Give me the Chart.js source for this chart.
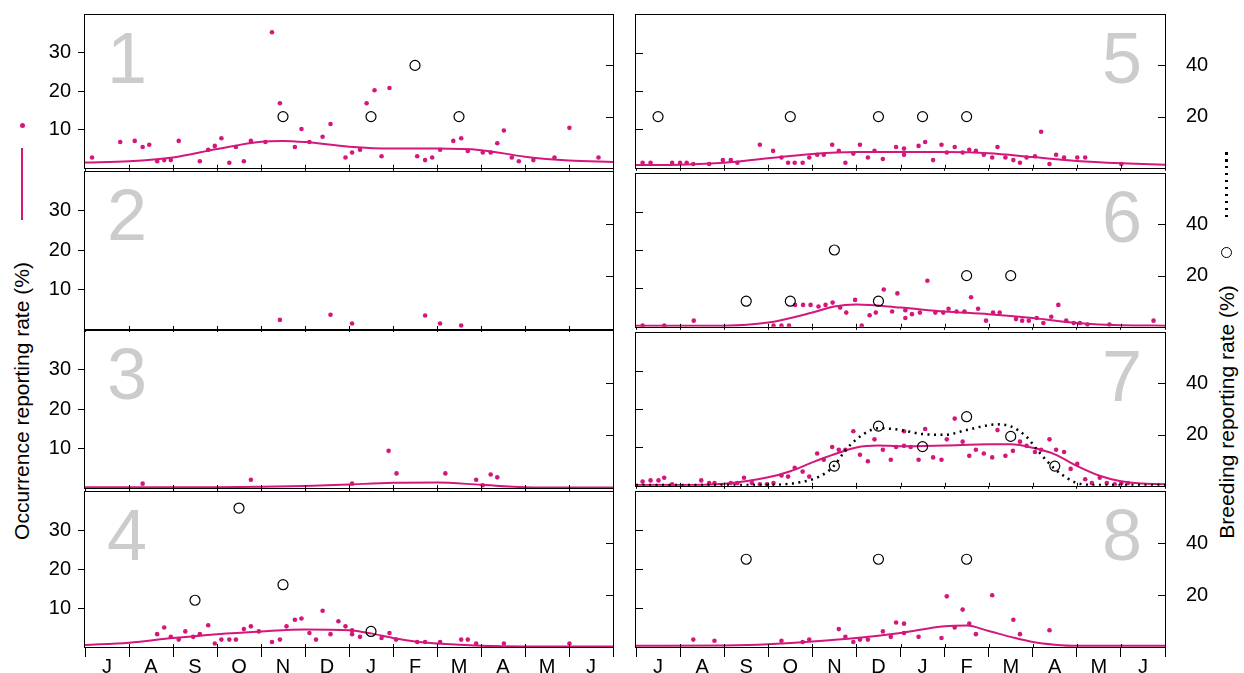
<!DOCTYPE html>
<html>
<head>
<meta charset="utf-8">
<script src="https://cdn.jsdelivr.net/npm/chart.js@4.4.1/dist/chart.umd.min.js"></script>
<style>
  body { margin: 0; background: #fff; }
  #page { position: relative; width: 1244px; height: 673px; overflow: hidden;
          font-family: 'Liberation Sans', Arial, sans-serif; }
  #page canvas { position: absolute; }
  .ytitle { position: absolute; white-space: nowrap; font-size: 21px; color: #000;
            transform: translate(-50%, -50%) rotate(-90deg); }
  .mark { position: absolute; }
</style>
</head>
<body>
<div id="page">
  <div class="ytitle" style="left:22px; top:401px;">Occurrence reporting rate (%)</div>
  <div class="ytitle" style="left:1227px; top:412px;">Breeding reporting rate (%)</div>
  <div class="mark" style="left:20px; top:123px; width:5px; height:5px; border-radius:50%; background:#d4177b;"></div>
  <div class="mark" style="left:21px; top:148px; width:2px; height:72px; background:#d4177b;"></div>
  <div class="mark" style="left:1225px; top:152px; width:3px; height:70px;
       background: repeating-linear-gradient(to bottom, #000 0 2.5px, transparent 2.5px 7px);"></div>
  <div class="mark" style="left:1221px; top:247px; width:9px; height:9px; border:1px solid #000; border-radius:50%;"></div>
</div>
<script>
var MAGENTA = '#d4177b';
var FONT = "'Liberation Sans', Arial, sans-serif";

// month labels, July -> June
var months = ['J', 'A', 'S', 'O', 'N', 'D', 'J', 'F', 'M', 'A', 'M', 'J'];
var occTicks = [10, 20, 30];
var breedTicks = [20, 40];

// occurrence reporting rate, monthly points [month, %]
var dots1 = [[0.16,2.7],[0.8,6.7],[1.13,7.0],[1.31,5.4],[1.46,6.0],[1.64,1.7],[1.8,2.0],[1.95,2.0],[2.13,7.0],
  [2.61,1.7],[2.8,4.7],[2.95,5.7],[3.1,7.7],[3.28,1.3],[3.43,5.4],[3.61,1.7],[3.77,7.0],[4.1,6.7],[4.25,35.3],
  [4.43,16.8],[4.77,5.4],[4.92,10.1],[5.1,6.7],[5.4,8.1],[5.58,11.4],[5.92,2.7],[6.07,4.0],[6.25,4.7],[6.4,16.8],
  [6.58,20.2],[6.74,3.0],[6.92,20.8],[7.55,3.0],[7.73,2.0],[7.89,2.7],[8.07,4.7],[8.37,7.0],[8.55,7.7],[8.7,4.4],
  [9.04,4.0],[9.22,4.0],[9.37,6.4],[9.52,9.7],[9.7,2.7],[9.86,1.7],[10.19,2.0],[10.67,2.7],[11.01,10.4],[11.67,2.7]];
var dots2 = [[4.43,2.3],[5.58,3.6],[6.07,1.4],[7.73,3.4],[8.07,1.4],[8.55,0.9]];
var dots3 = [[1.31,1.1],[3.77,2.1],[6.07,1.1],[6.9,9.4],[7.08,3.7],[8.19,3.7],[8.89,2.1],[9.04,0.7],[9.22,3.4],[9.37,2.7]];
var dots4 = [[1.64,3.3],[1.8,5.0],[1.95,2.6],[2.13,1.9],[2.28,4.0],[2.46,2.6],[2.61,3.3],[2.8,5.6],[2.95,0.9],
  [3.1,1.9],[3.28,1.9],[3.43,1.9],[3.61,4.6],[3.77,5.3],[3.95,4.0],[4.25,1.3],[4.43,1.9],[4.58,5.3],[4.77,7.0],
  [4.92,7.3],[5.1,3.6],[5.25,1.9],[5.4,9.3],[5.58,3.3],[5.76,6.6],[5.92,5.3],[6.07,4.3],[6.07,3.3],[6.25,2.6],
  [6.74,2.3],[6.92,3.6],[7.07,1.9],[7.55,1.3],[7.73,1.3],[8.07,1.3],[8.55,1.9],[8.7,1.9],[8.89,0.9],[9.52,0.9],[11.01,0.9]];
var dots5 = [[0.15,1.3],[0.33,1.3],[0.82,1.3],[1.0,1.3],[1.15,1.3],[1.3,1.0],[1.66,1.0],[1.97,2.0],[2.15,2.0],
  [2.3,1.3],[2.81,6.0],[3.11,4.4],[3.3,2.7],[3.45,1.3],[3.6,1.3],[3.78,1.3],[3.93,2.7],[4.11,3.4],[4.26,3.4],
  [4.45,6.0],[4.6,4.4],[4.75,1.3],[4.93,3.7],[5.08,6.0],[5.26,2.7],[5.41,4.4],[5.6,2.3],[5.9,5.4],[6.08,5.0],
  [6.08,3.4],[6.41,5.7],[6.56,6.7],[6.74,2.0],[6.93,6.0],[7.05,4.0],[7.23,5.4],[7.41,4.0],[7.56,4.7],[7.71,4.4],
  [7.89,3.4],[8.08,2.7],[8.2,5.4],[8.38,2.7],[8.56,2.0],[8.71,1.3],[8.86,2.7],[9.05,3.0],[9.19,9.4],[9.38,1.0],
  [9.53,3.4],[9.71,2.7],[10.01,2.7],[10.19,2.7],[11.01,1.0]];
var dots6 = [[0.15,0.3],[0.64,0.3],[1.31,1.6],[3.12,0.3],[3.3,0.3],[3.47,0.3],[3.61,5.7],[3.79,5.7],[3.96,5.7],
  [4.14,5.3],[4.3,5.7],[4.46,6.3],[4.63,5.0],[4.77,3.7],[4.97,7.0],[5.12,0.3],[5.3,3.0],[5.44,3.7],[5.62,9.7],
  [5.81,4.0],[5.93,8.7],[6.11,4.3],[6.11,2.3],[6.26,3.3],[6.44,3.7],[6.61,12.0],[6.79,3.7],[6.97,3.7],[7.09,4.7],
  [7.27,4.0],[7.45,4.0],[7.6,7.7],[7.76,4.7],[7.94,1.6],[8.1,3.7],[8.25,3.7],[8.62,2.0],[8.76,1.6],[8.91,1.6],
  [9.09,2.3],[9.24,1.0],[9.42,2.6],[9.58,5.7],[9.76,1.6],[9.93,1.0],[10.07,1.0],[10.24,0.6],[10.74,0.6],[11.74,1.6]];
var dots7 = [[0.15,1.1],[0.33,1.4],[0.51,1.4],[0.64,2.1],[0.82,0.4],[1.48,1.4],[1.66,0.7],[1.78,0.7],[2.15,0.7],
  [2.3,0.7],[2.45,2.1],[2.63,0.7],[2.81,0.4],[2.97,0.4],[3.12,0.7],[3.3,2.7],[3.45,2.4],[3.6,4.7],[3.78,3.7],
  [3.93,2.4],[4.11,8.4],[4.26,6.8],[4.45,10.1],[4.6,9.4],[4.75,9.4],[4.93,14.2],[5.08,8.1],[5.26,6.4],[5.41,12.1],
  [5.6,9.4],[5.78,6.8],[5.9,10.1],[6.08,10.4],[6.08,14.2],[6.23,10.1],[6.41,6.8],[6.56,14.8],[6.74,7.4],[6.93,6.8],
  [7.05,12.1],[7.23,17.5],[7.41,11.5],[7.56,7.8],[7.71,9.4],[7.89,8.4],[8.08,7.4],[8.2,14.5],[8.38,7.8],[8.55,9.1],
  [8.71,11.5],[8.86,10.4],[9.05,8.8],[9.19,9.4],[9.38,12.1],[9.53,9.4],[9.71,8.8],[9.86,4.4],[10.01,5.7],
  [10.19,1.7],[10.34,0.7],[10.52,2.1],[10.68,0.7],[10.86,0.4],[11.01,0.7],[11.16,0.7]];
var dots8 = [[1.3,1.9],[1.78,1.6],[3.3,1.6],[3.78,1.3],[3.93,1.9],[4.6,4.6],[4.75,2.6],[4.93,1.3],[5.08,1.9],
  [5.26,1.9],[5.6,4.0],[5.78,2.6],[5.9,6.3],[6.08,6.0],[6.08,3.6],[6.41,2.6],[6.93,2.3],[7.05,13.0],[7.23,5.0],
  [7.41,9.6],[7.56,6.0],[7.71,3.3],[8.08,13.3],[8.56,7.0],[8.71,3.3],[9.38,4.3]];

// smoothed occurrence curves [month, %]
var curve1 = [[0,1.4],[1,1.7],[2,2.7],[3,4.9],[4,6.8],[4.5,7.0],[5,6.7],[6,5.5],[7,5.0],[8,5.0],[9,4.6],[10,2.9],[11,1.9],[12,1.5]];
var curve3 = [[0,0.2],[3,0.2],[4,0.3],[5,0.5],[6,0.9],[7,1.3],[8,1.4],[9,0.8],[10,0.2],[11,0.1],[12,0.1]];
var curve4 = [[0,0.5],[1,1.1],[2,2.3],[3,3.3],[4,4.0],[5,4.5],[6,4.3],[6.5,3.5],[7,2.3],[7.5,1.4],[8,0.9],[9,0.3],[10,0.1],[12,0.1]];
var curve5 = [[0,0.7],[1,0.8],[2,1.3],[3,2.5],[4,3.6],[5,4.1],[6,4.1],[7,4.1],[8,3.8],[9,2.8],[10,1.8],[11,1.2],[12,0.8]];
var curve6 = [[0,0.3],[2,0.3],[3,1.1],[4,3.7],[4.5,5.3],[5,5.8],[6,5.0],[7,4.0],[8,3.3],[9,2.3],[10,1.0],[11,0.4],[12,0.3]];
var curve7 = [[0,0.2],[1,0.2],[2,0.55],[3,2.2],[3.5,3.8],[4,6.1],[4.5,8.2],[5,10.0],[5.5,10.5],[6,10.3],[7,10.5],
  [8,10.8],[8.5,10.8],[9,9.9],[9.5,8.2],[10,5.2],[10.5,2.7],[11,1.2],[11.5,0.6],[12,0.4]];
var curve8 = [[0,0.3],[2,0.4],[3,0.7],[4,1.4],[5,2.3],[6,3.6],[7,5.3],[7.5,5.5],[8,4.1],[8.5,2.6],[9,1.3],[9.5,0.6],[10,0.3],[12,0.3]];

// breeding reporting rate [month, %]
var breed1 = [[4.5,20],[6.5,20],[7.5,40],[8.5,20]];
var breed4 = [[2.5,18],[3.5,53.5],[4.5,24],[6.5,6]];
var breed5 = [[0.5,20],[3.5,20],[5.5,20],[6.5,20],[7.5,20]];
var breed6 = [[2.5,10],[3.5,10],[4.5,30],[5.5,10],[7.5,20],[8.5,20]];
var breed7 = [[4.5,7.7],[5.5,23.3],[6.5,15.3],[7.5,27],[8.5,19.3],[9.5,7.7]];
var breed8 = [[2.5,33.8],[5.5,33.8],[7.5,33.8]];
var breedCurve7 = [[0,0.3],[3,0.3],[3.5,0.8],[3.75,1.5],[4,2.5],[4.3,5],[4.5,8],[4.8,14.9],[5.2,20.6],[5.5,22.5],
  [6,21.8],[6.5,20.2],[7,19.9],[7.5,21.8],[8,23.7],[8.25,24.0],[8.5,23.2],[8.85,19.3],[9.15,13.0],[9.5,6.6],
  [9.8,2.8],[10,1.1],[10.4,0.3],[12,0.3]];

function pts(arr) {
  return arr.map(function (p) { return { x: p[0], y: p[1] }; });
}

// no extra room for half tick labels, the panels butt against each other
function noPad(sc) {
  sc.paddingTop = 0; sc.paddingBottom = 0; sc.paddingLeft = 0; sc.paddingRight = 0;
}

// frame, inward ticks and the big grey panel number
var panelFrame = {
  id: 'panelFrame',
  beforeDatasetsDraw: function (chart, args, opts) {
    var ctx = chart.ctx, a = chart.chartArea;
    ctx.save();
    ctx.fillStyle = '#cccccc';
    ctx.font = '72px ' + FONT;
    ctx.textBaseline = 'alphabetic';
    if (opts.col === 0) {
      ctx.textAlign = 'left';
      ctx.fillText(opts.label, a.left + 22, a.top + 69);
    } else {
      ctx.textAlign = 'right';
      ctx.fillText(opts.label, a.right - 23, a.top + 69);
    }
    ctx.restore();
  },
  afterDraw: function (chart, args, opts) {
    var ctx = chart.ctx, a = chart.chartArea, s = chart.scales;
    ctx.save();
    ctx.strokeStyle = '#000';
    ctx.lineWidth = 1;
    ctx.beginPath();
    if (opts.col === 1) {
      occTicks.forEach(function (v) {
        var y = Math.round(s.y.getPixelForValue(v)) + 0.5;
        ctx.moveTo(a.left, y); ctx.lineTo(a.left + 7, y);
      });
    }
    breedTicks.forEach(function (v) {
      var y = Math.round(s.y2.getPixelForValue(v)) + 0.5;
      ctx.moveTo(a.right - 7, y); ctx.lineTo(a.right, y);
    });
    for (var m = 1; m < 12; m++) {
      var x = Math.round(s.x.getPixelForValue(m)) + 0.5;
      ctx.moveTo(x, a.bottom); ctx.lineTo(x, a.bottom - 3);
    }
    ctx.stroke();
    ctx.strokeRect(Math.round(a.left) - 0.5, Math.round(a.top) + 0.5,
                   Math.round(a.right - a.left) + 1, Math.round(a.bottom - a.top));
    ctx.restore();
  }
};

function makePanel(label, col, row, dots, curve, breed, breedCurve) {
  var panelTop = 11 + row * 159;
  var xh = row < 3 ? 4 : 26;
  var cv = document.createElement('canvas');
  var w = col === 0 ? 624 : 620;
  var h = 3 + 159 + xh;
  cv.width = w; cv.height = h;
  cv.style.left = (col === 0 ? 0 : 624) + 'px';
  cv.style.top = (panelTop - 3) + 'px';
  document.getElementById('page').appendChild(cv);

  var datasets = [];
  if (breed) {
    datasets.push({ data: pts(breed), yAxisID: 'y2', showLine: false,
      pointRadius: 5, pointBorderWidth: 1.2, pointBorderColor: '#000', pointBackgroundColor: 'rgba(0,0,0,0)' });
  }
  if (breedCurve) {
    datasets.push({ data: pts(breedCurve), yAxisID: 'y2', borderColor: '#000', borderWidth: 2.5,
      borderDash: [2, 4.5], pointRadius: 0, cubicInterpolationMode: 'monotone', fill: false });
  }
  if (curve) {
    datasets.push({ data: pts(curve), yAxisID: 'y', borderColor: MAGENTA, borderWidth: 2,
      pointRadius: 0, cubicInterpolationMode: 'monotone', fill: false });
  }
  datasets.push({ data: pts(dots), yAxisID: 'y', showLine: false,
    pointRadius: 2.3, pointBorderWidth: 0, pointBackgroundColor: MAGENTA });

  new Chart(cv, {
    type: 'line',
    data: { datasets: datasets },
    options: {
      responsive: false,
      animation: false,
      devicePixelRatio: 1,
      layout: { padding: { top: 3, left: 0, right: 0, bottom: 0 } },
      plugins: { legend: { display: false }, tooltip: { enabled: false },
                 panelFrame: { label: label, col: col } },
      scales: {
        x: {
          type: 'linear', min: 0, max: 12,
          afterBuildTicks: function (sc) {
            var t = [];
            for (var v = 0; v <= 12; v += 0.5) t.push({ value: v });
            sc.ticks = t;
          },
          afterFit: function (sc) { sc.height = xh; noPad(sc); },
          border: { display: false },
          grid: { drawOnChartArea: false, tickLength: row < 3 ? 3 : 10, tickWidth: 1,
                  tickColor: function (c) { return c.tick && c.tick.value % 1 === 0 ? '#000' : 'rgba(0,0,0,0)'; } },
          ticks: { display: row === 3, autoSkip: false, maxRotation: 0, padding: -2, color: '#000',
                   font: { family: FONT, size: 20 },
                   callback: function (v) { return v % 1 ? months[Math.floor(v)] : ''; } }
        },
        y: {
          position: 'left', min: 0, max: 40,
          afterBuildTicks: function (sc) { sc.ticks = occTicks.map(function (v) { return { value: v }; }); },
          afterFit: function (sc) { sc.width = col === 0 ? 85 : 12; noPad(sc); },
          border: { display: false },
          grid: { display: col === 0, drawOnChartArea: false, tickLength: 7, tickColor: '#000' },
          ticks: { display: col === 0, padding: 7, color: '#000', font: { family: FONT, size: 20 } }
        },
        y2: {
          position: 'right', min: 0, max: 60,
          afterBuildTicks: function (sc) { sc.ticks = breedTicks.map(function (v) { return { value: v }; }); },
          afterFit: function (sc) { sc.width = col === 0 ? 11 : 79; noPad(sc); },
          border: { display: false },
          grid: { display: false, drawTicks: false },
          ticks: { display: col === 1, padding: 21, color: '#000', font: { family: FONT, size: 20 } }
        }
      }
    },
    plugins: [panelFrame]
  });
}

makePanel('1', 0, 0, dots1, curve1, breed1, null);
makePanel('2', 0, 1, dots2, null, null, null);
makePanel('3', 0, 2, dots3, curve3, null, null);
makePanel('4', 0, 3, dots4, curve4, breed4, null);
makePanel('5', 1, 0, dots5, curve5, breed5, null);
makePanel('6', 1, 1, dots6, curve6, breed6, null);
makePanel('7', 1, 2, dots7, curve7, breed7, breedCurve7);
makePanel('8', 1, 3, dots8, curve8, breed8, null);
</script>
</body>
</html>
